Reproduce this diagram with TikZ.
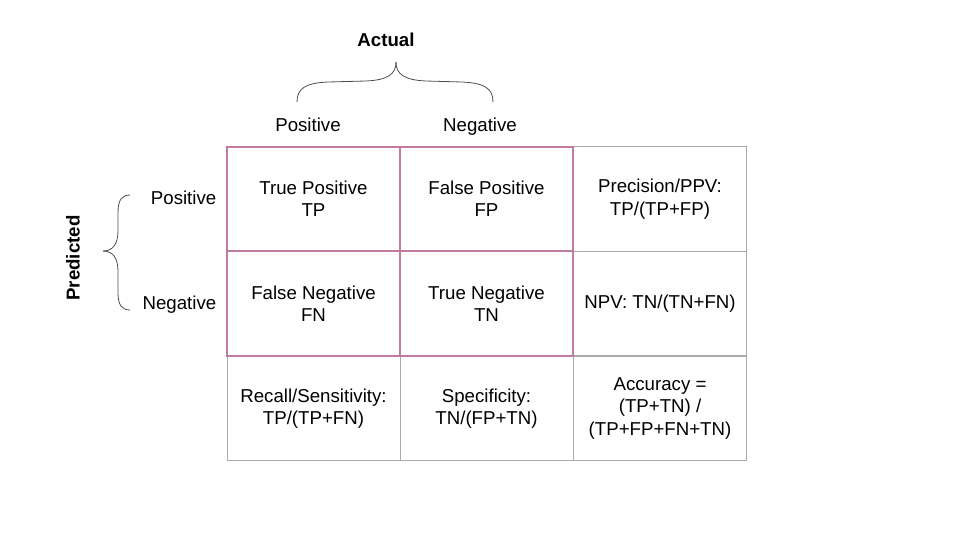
\documentclass[tikz,border=0pt]{standalone}
\usepackage{fontspec}
\setmainfont{Liberation Sans}
\usepackage{tikz}
\usepackage{xcolor}
\definecolor{matpink}{RGB}{194,123,160}
\definecolor{gridgray}{RGB}{170,170,170}

\begin{document}
\begin{tikzpicture}[x=0.75pt, y=-0.75pt,
	every node/.style={font=\fontsize{14}{16.8}\selectfont, align=center},
	cell/.style={draw=gridgray, line width=0.6pt, rectangle, inner sep=0pt, outer sep=0pt, minimum width=129.75pt, minimum height=78.5pt},
	hit/.style={draw=matpink, line width=1.5pt, rectangle, inner sep=0pt, outer sep=0pt, minimum width=129.75pt, minimum height=78.5pt},
	brace/.style={draw=black!70, line width=0.6pt}]
				\useasboundingbox (0,0) rectangle (960,540);
				% grid cells
				\node[cell] (c11) at (313.5, 199.0) {True Positive\\TP};
				\node[cell] (c12) at (486.5, 199.0) {False Positive\\FP};
				\node[cell] (c13) at (660.0, 199.0) {Precision/PPV:\\TP/(TP+FP)};
				\node[cell] (c21) at (313.5, 303.5) {False Negative\\FN};
				\node[cell] (c22) at (486.5, 303.5) {True Negative\\TN};
				\node[cell] (c23) at (660.0, 303.5) {NPV: TN/(TN+FN)};
				\node[cell] (c31) at (313.5, 408.5) {Recall/Sensitivity:\\TP/(TP+FN)};
				\node[cell] (c32) at (486.5, 408.5) {Specificity:\\TN/(FP+TN)};
				\node[cell] (c33) at (660.0, 408.5) {Accuracy =\\(TP+TN) /\\(TP+FP+FN+TN)};
				% confusion block
				\node[hit] at (c11) {};
				\node[hit] at (c12) {};
				\node[hit] at (c21) {};
				\node[hit] at (c22) {};
				% headers
				\node[anchor=base] (colpos) at (308, 131) {Positive};
				\node[anchor=base] (colneg) at (480, 131) {Negative};
				\node[font=\fontsize{14}{16.8}\selectfont\bfseries] (actual) at (386, 40) {Actual};
				\node[anchor=base east] (rowpos) at (221, 204) {Positive};
				\node[anchor=base east] (rowneg) at (221, 309) {Negative};
				\node[font=\fontsize{14}{16.8}\selectfont\bfseries, rotate=90] (predicted) at (73, 258) {Predicted};
				% braces
				\coordinate (atip) at (396, 62);
				\coordinate (ptip) at (103, 251);
				\draw[brace] (297, 102) .. controls (297, 88) and (306, 83) .. (328, 82) -- (366, 81) .. controls (388, 80) and (396, 74) .. (atip);
				\draw[brace] (493, 102) .. controls (493, 88) and (484, 83) .. (462, 82) -- (426, 81) .. controls (404, 80) and (396, 74) .. (atip);
				\draw[brace] (130, 195) .. controls (122, 195) and (118, 200) .. (118, 212) -- (118, 231) .. controls (118, 245) and (112, 251) .. (ptip);
				\draw[brace] (130, 310) .. controls (122, 310) and (118, 305) .. (118, 293) -- (118, 271) .. controls (118, 257) and (112, 251) .. (ptip);
			\end{tikzpicture}
\end{document}
